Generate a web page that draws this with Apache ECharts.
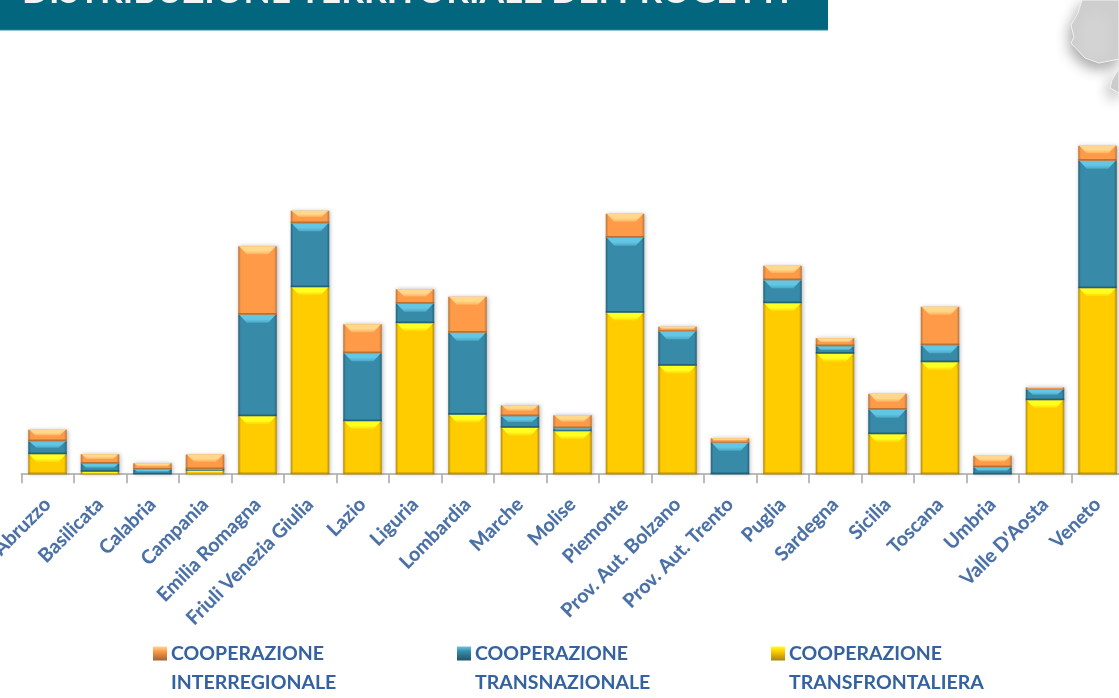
<!DOCTYPE html>
<html><head><meta charset="utf-8">
<style>html,body{margin:0;padding:0;background:#fff}#c{width:1119px;height:698px}</style>
<script src="https://cdn.jsdelivr.net/npm/echarts@6/dist/echarts.min.js"></script>
</head><body><div id="c"></div>
<script>
const categories = ["Abruzzo","Basilicata","Calabria","Campania","Emilia Romagna","Friuli Venezia Giulia","Lazio","Liguria","Lombardia","Marche","Molise","Piemonte","Prov. Aut. Bolzano","Prov. Aut. Trento","Puglia","Sardegna","Sicilia","Toscana","Umbria","Valle D'Aosta","Veneto"];
const transfrontaliera = [20,2.5,0,3.5,58,187,53,151,59.5,46.5,43,161.5,108.5,0,171,120.5,40,112,0,74,186];
const transnazionale = [13,8,5,1.7,101.5,64,68,19.5,82,11.5,3,75,34.5,31.5,23,7.5,24.5,17,7,11,127.5];
const interregionale = [11.5,9.5,6,14.5,68.5,12.5,29,14.5,36,11,13,24,4.5,4.5,14.5,8,16,38.5,11.5,2,15];
const names = ["COOPERAZIONE\nTRANSFRONTALIERA","COOPERAZIONE\nTRANSNAZIONALE","COOPERAZIONE\nINTERREGIONALE"];
const palette = [
 {body:"#FFCC00",edge:"#B08A10",top:"#FFFF20",low:"#FFD400",dark:"#A88410"},
 {body:"#388BA8",edge:"#24647C",top:"#62C6E4",low:"#4BA8C6",dark:"#1F5468"},
 {body:"#FF9A48",edge:"#B8763C",top:"#FFD88C",low:"#FFB060",dark:"#A06430"}
];
const sets = [transfrontaliera,transnazionale,interregionale];
const BAR = 38.5;

function hGrad(p){return {type:"linear",x:0,y:0,x2:1,y2:0,colorStops:[
 {offset:0,color:p.edge},{offset:.07,color:p.body},{offset:.93,color:p.body},{offset:1,color:p.edge}]};}
function vGrad(p){return {type:"linear",x:0,y:0,x2:0,y2:1,colorStops:[
 {offset:0,color:p.top},{offset:.35,color:p.body},{offset:1,color:p.dark}]};}

const overlay = [];
categories.forEach((c,i)=>{let base=0;sets.forEach((s,k)=>{overlay.push([i,base,base+s[i],k]);base+=s[i];});});

function renderBevel(params,api){
  const i=api.value(0),lo=api.value(1),hi=api.value(2),p=palette[api.value(3)];
  if(hi-lo<=0) return {type:"group",children:[]};
  const a=api.coord([i,hi]),b=api.coord([i,lo]);
  const x0=a[0]-BAR/2,x1=a[0]+BAR/2,y0=a[1],y1=b[1],h=y1-y0;
  const t=Math.min(8,h*.5),ins=Math.min(7.5,t*1.1),bt=Math.min(1.6,h*.22);
  return {type:"group",children:[
    {type:"polygon",shape:{points:[[x0+1,y0],[x1-1,y0],[x1-1-ins,y0+t],[x0+1+ins,y0+t]]},
     style:{fill:{type:"linear",x:0,y:0,x2:0,y2:1,colorStops:[{offset:0,color:p.top},{offset:.55,color:p.top},{offset:1,color:p.low}]}},silent:true},
    {type:"rect",shape:{x:x0,y:y1-bt,width:BAR,height:bt},style:{fill:p.dark,opacity:.75},silent:true}
  ]};
}

const barSeries = sets.map((s,k)=>({
  type:"bar",name:names[k],stack:"total",data:s,barWidth:BAR,
  itemStyle:{color:hGrad(palette[k]),shadowColor:"rgba(0,0,0,.28)",shadowBlur:4,shadowOffsetX:1,shadowOffsetY:0},
  silent:true,animation:false
}));

function legend(k,left){
  return {show:true,left:left,top:605,orient:"horizontal",itemWidth:14,itemHeight:14,itemGap:0,selectedMode:false,
    data:[{name:names[k],icon:"rect",itemStyle:{color:vGrad(palette[k])}}],
    formatter:n=>"\n"+n,
    textStyle:{fontFamily:"Lato",fontWeight:"bold",fontSize:19.5,lineHeight:29,color:"#3462A0",padding:[0,0,0,-1]}};
}

const chart = echarts.init(document.getElementById("c"),null,{renderer:"canvas"});
chart.setOption({
  animation:false,backgroundColor:"#fff",
  grid:{left:21.25,width:1102.5,top:74.2,height:400,containLabel:false,outerBoundsMode:"none"},
  xAxis:{type:"category",data:categories,
    axisLine:{lineStyle:{color:"#A6A6A6",width:1.5}},
    axisTick:{show:true,length:9,alignWithLabel:false,lineStyle:{color:"#A6A6A6",width:1.5}},
    axisLabel:{rotate:45,interval:0,margin:27,fontFamily:"Lato",fontWeight:"bold",fontSize:19.5,color:"#4A70A5",hideOverlap:false,
      textShadowColor:"rgba(68,105,158,.35)",textShadowBlur:1}},
  yAxis:{type:"value",min:0,max:400,show:false,splitLine:{show:false}},
  legend:[legend(2,148),legend(1,452),legend(0,766)],
  series:barSeries.concat([{type:"custom",data:overlay,renderItem:renderBevel,silent:true,z:5,
    encode:{x:0,y:2},clip:false,animation:false}]),
  graphic:[
    {type:"polygon",z:1,silent:true,shape:{points:[[1082,0],[1078,13],[1071,25],[1074,37],[1071,43],[1085,58],[1099,63],[1119,59],[1119,0]]},
      style:{fill:"#D3D3D3",stroke:"#F2F2F2",lineWidth:1,shadowColor:"rgba(0,0,0,.35)",shadowBlur:14,shadowOffsetX:-2,shadowOffsetY:6}},
    {type:"polygon",z:1,silent:true,shape:{points:[[1119,68],[1112,80],[1110,88],[1119,93]]},
      style:{fill:"#D3D3D3",stroke:"#F2F2F2",lineWidth:1,shadowColor:"rgba(0,0,0,.35)",shadowBlur:14,shadowOffsetX:-2,shadowOffsetY:6}},
    {type:"rect",z:2,silent:true,shape:{x:0,y:0,width:828,height:30},style:{fill:"#02667F"}},
    {type:"rect",z:2,silent:true,shape:{x:0,y:29.5,width:828,height:1},style:{fill:"#2A8AA0"}},
    {type:"text",z:3,silent:true,x:22,y:9,style:{text:"DISTRIBUZIONE TERRITORIALE DEI PROGETTI",fill:"#F4F4F4",
      font:"bold 35.4px Lato",verticalAlign:"bottom",align:"left"}}
  ]
});
</script></body></html>
